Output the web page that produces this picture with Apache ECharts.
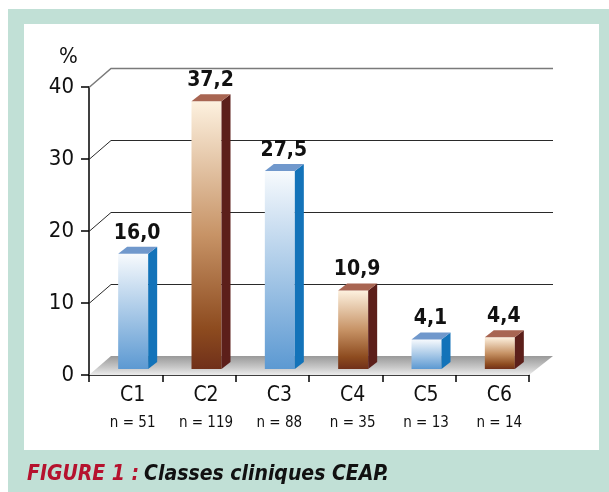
<!DOCTYPE html>
<html>
<head>
<meta charset="utf-8">
<script src="https://cdn.jsdelivr.net/npm/echarts@6/dist/echarts.min.js"></script>
<style>
  html, body { margin: 0; padding: 0; background: #fff; }
  #main { width: 609px; height: 492px; }
</style>
</head>
<body>
<div id="main"></div>
<script>
// data
const categories = ['C1', 'C2', 'C3', 'C4', 'C5', 'C6'];
const counts = [51, 119, 88, 35, 13, 14];
const percents = [16.0, 37.2, 27.5, 10.9, 4.1, 4.4];
const yTicks = [0, 10, 20, 30, 40];

const FONT = "'Liberation Sans Narrow', 'DejaVu Sans Condensed', sans-serif";
const DEPTH = [22, -19];   // floor / wall depth
const BAR_D = [9, -7];     // bar depth
const BAR_W = 30;

const blueFront = new echarts.graphic.LinearGradient(0, 0, 0, 1, [
  {offset: 0, color: '#f7fafd'}, {offset: 1, color: '#5c99d2'}
]);
const brownFront = new echarts.graphic.LinearGradient(0, 0, 0, 1, [
  {offset: 0, color: '#fdf1df'}, {offset: 0.5, color: '#c79366'},
  {offset: 0.85, color: '#8d4b1f'}, {offset: 1, color: '#70301a'}
]);
const looks = [
  {front: blueFront, side: '#1373b9', top: '#7098cc'},
  {front: brownFront, side: '#5c1f1a', top: '#a86552'}
];

let chart = echarts.init(document.getElementById('main'));

function fmt(v) {
  return v.toFixed(1).replace('.', ',');
}

let option = {
  animation: false,
  backgroundColor: '#fff',
  graphic: [
    {type: 'rect', z: -10, shape: {x: 8, y: 9, width: 601, height: 483}, style: {fill: '#c1e0d6'}},
    {type: 'rect', z: -9, shape: {x: 24, y: 24, width: 575, height: 426}, style: {fill: '#fff'}}
  ],
  title: [
    {text: '%', left: 54, top: 41, textStyle: {fontFamily: FONT, fontSize: 22, fontWeight: 'normal', color: '#111'}},
    {
      text: '{a|FIGURE 1 :} {b|Classes cliniques CEAP.}',
      left: 22, top: 459,
      textStyle: {
        rich: {
          a: {fontFamily: FONT, fontSize: 21, fontWeight: 'bold', fontStyle: 'italic', color: '#b5122e'},
          b: {fontFamily: FONT, fontSize: 21, fontWeight: 'bold', fontStyle: 'italic', color: '#111'}
        }
      }
    }
  ],
  grid: {left: 89, right: 80, top: 87, bottom: 117},
  xAxis: {
    type: 'category',
    data: categories,
    axisLine: {lineStyle: {color: '#000', width: 1.5}},
    axisTick: {show: true, interval: 0, length: 7, lineStyle: {color: '#000', width: 1.5}},
    axisLabel: {
      interval: 0,
      margin: 9,
      padding: [0, 0, 0, 14],
      formatter: (v, i) => '{c|' + v + '}\n{n|n = ' + counts[i] + '}',
      rich: {
        c: {fontFamily: FONT, fontSize: 21, lineHeight: 24, color: '#111'},
        n: {fontFamily: FONT, fontSize: 15, lineHeight: 30, color: '#111'}
      }
    }
  },
  yAxis: {
    type: 'value',
    min: 0, max: 40, interval: 10,
    axisLine: {show: true, lineStyle: {color: '#000', width: 1.5}},
    axisTick: {show: true, length: 8, lineStyle: {color: '#000', width: 1.5}},
    splitLine: {show: false},
    axisLabel: {margin: 15, fontFamily: FONT, fontSize: 22, color: '#111'}
  },
  series: [
    {
      // back wall grid lines with their side connectors
      type: 'custom',
      z: 1,
      silent: true,
      data: yTicks.map(v => [0, v]),
      renderItem: (params, api) => {
        const cs = params.coordSys;
        const v = api.value(1);
        if (v === 0) return null;
        const y = Math.round(api.coord([0, v])[1]) + 0.5;
        const top = v === yTicks[yTicks.length - 1];
        return {
          type: 'polyline',
          shape: {points: [
            [cs.x, y], [cs.x + DEPTH[0], y + DEPTH[1]], [cs.x + cs.width + DEPTH[0] + 2, y + DEPTH[1]]
          ]},
          style: {stroke: top ? '#7a7a7a' : '#2a2a2a', lineWidth: top ? 1.5 : 1, fill: null}
        };
      }
    },
    {
      // floor
      type: 'custom',
      z: 2,
      silent: true,
      data: [[0, 0]],
      renderItem: (params, api) => {
        const cs = params.coordSys;
        const y0 = api.coord([0, 0])[1];
        return {
          type: 'polygon',
          shape: {points: [
            [cs.x, y0], [cs.x + cs.width, y0],
            [cs.x + cs.width + DEPTH[0] + 2, y0 + DEPTH[1]], [cs.x + DEPTH[0], y0 + DEPTH[1]]
          ]},
          style: {fill: new echarts.graphic.LinearGradient(0, 0, 0, 1, [
            {offset: 0, color: '#999999'}, {offset: 0.6, color: '#c8c8c8'}, {offset: 1, color: '#ececec'}
          ])}
        };
      }
    },
    {
      // 3D bars
      type: 'custom',
      z: 3,
      data: percents.map((v, i) => [i, v]),
      renderItem: (params, api) => {
        const i = api.value(0);
        const v = api.value(1);
        const base = api.coord([i, 0]);
        const head = api.coord([i, v]);
        const cx = base[0] + 7.5;
        const yb = base[1] - 6;
        const yt = head[1] - 6;
        const xl = cx - BAR_W / 2, xr = cx + BAR_W / 2;
        const look = looks[i % 2];
        return {
          type: 'group',
          children: [
            {type: 'rect', shape: {x: xl, y: yt, width: BAR_W, height: yb - yt}, style: {fill: look.front}},
            {type: 'polygon', shape: {points: [
              [xr, yt], [xr + BAR_D[0], yt + BAR_D[1]], [xr + BAR_D[0], yb + BAR_D[1]], [xr, yb]
            ]}, style: {fill: look.side}},
            {type: 'polygon', shape: {points: [
              [xl, yt], [xl + BAR_D[0], yt + BAR_D[1]], [xr + BAR_D[0], yt + BAR_D[1]], [xr, yt]
            ]}, style: {fill: look.top}},
            {type: 'text', style: {
              x: cx + 4, y: yt - 10, text: fmt(v),
              align: 'center', verticalAlign: 'bottom',
              fontFamily: FONT, fontSize: 21, fontWeight: 'bold', fill: '#111'
            }}
          ]
        };
      }
    }
  ]
};

chart.setOption(option);
</script>
</body>
</html>
